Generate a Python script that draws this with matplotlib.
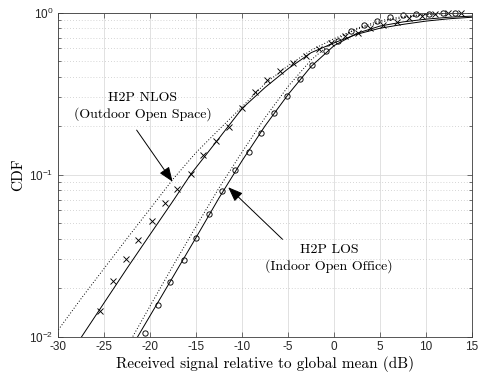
import matplotlib
matplotlib.use("Agg")
import matplotlib.pyplot as plt
from matplotlib.ticker import FixedLocator, LogLocator, NullFormatter

# measured samples (received signal in dB, CDF)
nlos_x = [-25.5, -24.1, -22.6, -21.3, -19.85, -18.4, -17.1, -15.6, -14.25,
          -12.85, -11.45, -10.05, -8.65, -7.3, -5.9, -4.45, -3.1, -1.65,
          -0.3, 1.15, 2.55, 3.95, 5.35, 6.8, 8.15, 9.6, 10.95, 12.4, 13.75]
nlos_y = [0.0143, 0.022, 0.030, 0.0393, 0.0514, 0.0664, 0.0813, 0.101, 0.132,
          0.160, 0.197, 0.256, 0.324, 0.383, 0.435, 0.490, 0.541, 0.598,
          0.645, 0.716, 0.744, 0.802, 0.837, 0.870, 0.921, 0.955, 0.975,
          0.99, 0.995]

los_x = [-20.6, -19.15, -17.8, -16.35, -15.05, -13.6, -12.15, -10.75, -9.3,
         -7.95, -6.55, -5.15, -3.75, -2.4, -0.9, 0.4, 1.8, 3.25, 4.65, 6.05,
         7.45, 8.9, 10.35, 11.8, 13.1]
los_y = [0.0105, 0.0156, 0.0217, 0.0295, 0.0407, 0.0573, 0.0794, 0.1066,
         0.138, 0.181, 0.241, 0.306, 0.387, 0.472, 0.578, 0.670, 0.769, 0.837,
         0.887, 0.934, 0.960, 0.975, 0.985, 0.99, 0.995]

# fitted curves (solid) and reference curves (dotted)
fit_nlos_x = [-27.5, -25, -22.5, -20, -17.5, -15.5, -12.5, -10, -7.5, -5,
              -2.5, 0, 2.5, 5, 7.5, 10, 12.5, 15]
fit_nlos_y = [0.0099, 0.0162, 0.0265, 0.0428, 0.069, 0.102, 0.168, 0.256,
              0.345, 0.45, 0.565, 0.65, 0.735, 0.80, 0.845, 0.885, 0.915, 0.935]

fit_los_x = [-21.4, -20, -17.5, -15, -12.5, -10, -7.5, -5, -2.5, 0, 2.5, 5,
             7.5, 10, 12.5, 15]
fit_los_y = [0.0099, 0.0135, 0.0235, 0.041, 0.072, 0.122, 0.20, 0.312, 0.465,
             0.625, 0.745, 0.825, 0.875, 0.91, 0.935, 0.95]

ref_nlos_x = [-30, -27.5, -25, -22.5, -20, -17.5, -15, -12.5, -10, -7.5, -5,
              -2.5, 0, 2.5, 5, 7.5, 10, 12.5, 15]
ref_nlos_y = [0.011, 0.0172, 0.0264, 0.0405, 0.0616, 0.094, 0.137, 0.19,
              0.262, 0.365, 0.47, 0.585, 0.69, 0.79, 0.87, 0.93, 0.97, 0.99,
              1.0]

ref_los_x = [-21.9, -20, -17.5, -15, -12.5, -10, -7.5, -5, -2.5, 0, 2.5, 5,
             7.5, 10, 12.5, 15]
ref_los_y = [0.01, 0.0155, 0.0275, 0.048, 0.083, 0.138, 0.225, 0.35, 0.51,
             0.67, 0.80, 0.89, 0.945, 0.975, 0.99, 1.0]

x_ticks = [-30, -25, -20, -15, -10, -5, 0, 5, 10, 15]
y_ticks = [0.01, 0.1, 1]
y_tick_labels = [r"$\mathregular{10^{-2}}$", r"$\mathregular{10^{-1}}$",
                 r"$\mathregular{10^{0}}$"]

TEXT_FONT = "cmr10"
TICK_FONT = "Liberation Sans"
AX_COLOR = "#3a3a3a"

fig = plt.figure(figsize=(4.78, 3.79), dpi=100)
ax = fig.add_axes([0.122, 0.1121, 0.8655, 0.8549])

ax.plot(ref_nlos_x, ref_nlos_y, color="black", linewidth=0.7,
        linestyle=(0, (1, 2)))
ax.plot(ref_los_x, ref_los_y, color="black", linewidth=0.7,
        linestyle=(0, (1, 2)))
ax.plot(fit_nlos_x, fit_nlos_y, "-", color="black", linewidth=0.7)
ax.plot(fit_los_x, fit_los_y, "-", color="black", linewidth=0.7)
ax.plot(nlos_x, nlos_y, "x", color="black", markersize=3.8,
        markeredgewidth=0.65, linestyle="none", clip_on=False)
ax.plot(los_x, los_y, "o", color="black", markersize=3.8,
        markerfacecolor="none", markeredgewidth=0.65, linestyle="none",
        clip_on=False)

ax.set_yscale("log")
ax.set_xlim(-30, 15)
ax.set_ylim(0.01, 1)

ax.xaxis.set_major_locator(FixedLocator(x_ticks))
ax.set_xticklabels([str(t) for t in x_ticks], fontfamily=TICK_FONT, fontsize=8.5)
ax.yaxis.set_major_locator(FixedLocator(y_ticks))
ax.yaxis.set_minor_locator(LogLocator(base=10, subs=range(2, 10)))
ax.yaxis.set_minor_formatter(NullFormatter())
ax.set_yticklabels(y_tick_labels, fontfamily=TICK_FONT, fontsize=8.5)

ax.tick_params(which="both", direction="in", top=True, right=True,
               color=AX_COLOR, width=0.5, labelcolor="#262626")
ax.tick_params(which="major", length=3.5, pad=3.5)
ax.tick_params(which="minor", length=2)

ax.grid(which="major", color="#dcdcdc", linestyle="-", linewidth=0.6)
ax.grid(which="minor", axis="y", color="#c8c8c8", linestyle=(0, (1, 2.5)),
        linewidth=0.6)
ax.set_axisbelow(True)
for sp in ax.spines.values():
    sp.set_color(AX_COLOR)
    sp.set_linewidth(0.6)

ax.set_xlabel("Received signal relative to global mean (dB)",
              fontfamily=TEXT_FONT, fontsize=11, labelpad=2)
ax.set_ylabel("CDF", fontfamily=TEXT_FONT, fontsize=11, labelpad=3)

arrow = dict(arrowstyle="-|>,head_length=0.9,head_width=0.35",
             color="black", linewidth=0.7, shrinkA=0, shrinkB=0)
ax.annotate("", xy=(-17.57, 0.0903), xytext=(-21.48, 0.188), arrowprops=arrow)
ax.annotate("", xy=(-11.52, 0.0834), xytext=(-5.61, 0.0398), arrowprops=arrow)

ax.text(-20.85, 0.263, "H2P NLOS\n(Outdoor Open Space)", ha="center",
        va="center", multialignment="center", fontfamily=TEXT_FONT,
        fontsize=10, linespacing=1.25)
ax.text(-0.58, 0.0304, "H2P LOS\n(Indoor Open Office)", ha="center",
        va="center", multialignment="center", fontfamily=TEXT_FONT,
        fontsize=10, linespacing=1.25)

fig.savefig("out.png", dpi=100)
